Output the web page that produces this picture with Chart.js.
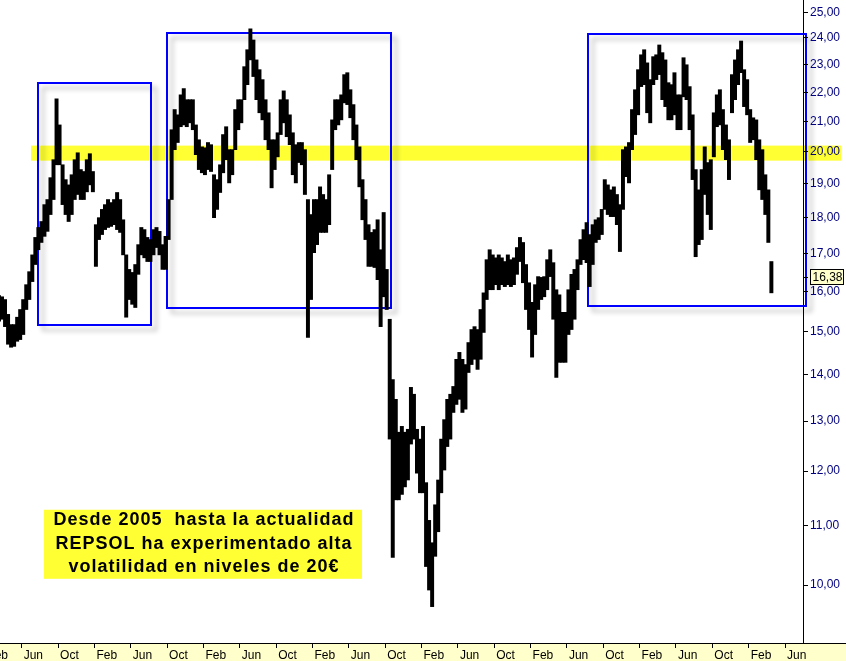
<!DOCTYPE html>
<html><head><meta charset="utf-8">
<script src="https://cdn.jsdelivr.net/npm/chart.js@4.4.1/dist/chart.umd.min.js"></script>
<style>html,body{margin:0;padding:0;background:#fff;overflow:hidden}canvas{display:block}</style>
</head><body>
<canvas id="c" width="846" height="661"></canvas>
<script>
// Price ranges [low, high], three periods per month (days 1-10, 11-20, 21-end)
const r2005 = [ // Mar..Dec 2005
[15.17,15.79],[15.25,15.89],[15.30,15.86],
[15.12,15.79],[14.70,15.42],[14.63,15.17],
[14.65,15.17],[14.77,15.35],[14.81,15.54],
[14.93,15.79],[15.54,16.17],[15.79,16.51],
[16.25,16.96],[16.70,17.44],[17.10,17.72],
[17.30,17.89],[17.47,18.38],[17.61,18.53],
[18.09,19.19],[18.53,19.75],[19.59,21.77],
[19.59,20.88],[18.38,19.59],[18.09,19.13],
[17.89,18.97],[18.09,19.28],[18.53,19.75],
[18.68,19.97],[18.53,19.44],[18.53,19.38]];
const r2006 = [
[18.76,19.75],[18.97,19.94],[18.76,19.38],
[16.65,17.80],[17.38,18.00],[17.52,18.24],
[17.66,18.38],[17.72,18.53],[17.75,18.44],
[17.80,18.53],[17.66,18.74],[17.58,18.53],
[16.96,17.94],[15.35,16.96],[15.79,16.57],
[15.67,16.49],[15.59,16.70],[16.44,17.24],
[16.96,17.72],[16.88,17.66],[16.78,17.44],
[16.78,17.38],[16.96,17.66],[17.16,17.72],
[16.96,17.61],[16.57,17.24],[16.57,17.47],
[17.38,18.53],[18.53,20.72],[20.07,21.40],
[20.30,21.22],[20.82,21.91],[20.88,22.13],
[20.82,21.74],[20.95,21.74],[20.72,21.74]];
const r2007 = [
[19.91,20.88],[19.44,20.39],[19.34,20.16],
[19.28,20.13],[19.44,20.30],[19.38,20.23],
[18.00,19.28],[18.24,19.13],[18.74,19.59],
[19.34,20.56],[19.75,20.82],[19.03,20.07],
[19.28,20.07],[20.07,21.40],[20.72,21.74],
[20.95,21.74],[21.74,22.92],[22.27,23.55],
[23.17,24.35],[22.56,23.92],[21.74,23.17],
[21.29,22.81],[21.05,22.45],[20.39,21.74],
[20.07,21.29],[18.88,20.39],[19.44,20.39],
[19.84,20.62],[20.56,21.74],[20.95,22.05],
[20.49,21.74],[20.23,21.22],[19.28,20.62],
[19.03,20.23],[19.66,20.30],[19.59,20.30]];
const r2008 = [
[18.68,20.07],[14.86,18.53],[15.79,18.09],
[17.02,18.53],[17.24,18.53],[17.58,18.91],
[17.58,18.68],[17.58,18.53],[17.80,19.28],
[19.44,21.05],[20.72,21.74],[20.88,21.74],
[21.05,21.91],[21.63,22.63],[21.57,22.70],
[21.12,22.09],[20.39,21.57],[19.75,20.88],
[18.91,20.16],[17.94,19.13],[17.38,18.53],
[16.65,17.80],[16.65,17.58],[16.62,17.66],
[16.30,17.94],[15.12,17.10],[15.86,18.15],
[15.54,16.57],[12.63,15.30],[10.45,13.89],
[11.46,13.46],[11.46,12.77],[11.56,12.89],
[11.70,12.77],[11.83,12.83],[12.53,13.72]];
const r2009 = [
[12.63,13.57],[11.96,12.83],[11.59,12.63],
[11.59,12.89],[10.30,11.78],[9.92,11.09],
[9.66,10.70],[10.47,11.37],[10.89,11.83],
[11.59,12.63],[12.02,13.03],[12.48,13.46],
[12.63,13.57],[13.18,13.74],[13.35,14.35],
[13.46,14.51],[13.18,14.35],[13.25,14.23],
[14.05,14.74],[14.23,15.05],[14.35,15.12],
[14.12,15.05],[14.35,15.54],[14.98,15.96],
[15.79,16.83],[16.04,17.10],[16.04,16.96],
[16.17,16.88],[16.04,16.96],[16.17,16.88],
[16.12,16.78],[16.17,16.96],[16.12,16.83],
[16.17,16.88],[16.44,17.16],[16.78,17.44]];
const r2010 = [
[16.22,17.30],[15.54,16.70],[15.05,16.22],
[14.40,15.72],[14.93,16.17],[15.54,16.38],
[15.79,16.36],[15.86,16.38],[16.04,16.83],
[16.38,17.10],[15.30,16.75],[13.94,16.04],
[14.28,15.91],[14.28,15.47],[14.28,15.47],
[14.93,16.04],[15.05,16.44],[15.30,16.57],
[16.04,16.83],[16.70,17.38],[16.83,17.66],
[16.75,17.86],[16.12,17.52],[16.70,17.80],
[17.30,17.94],[17.38,18.00],[17.52,18.24],
[18.24,19.13],[18.09,18.97],[18.03,18.82],
[18.03,18.91],[17.80,18.68],[17.05,18.38],
[18.24,20.07],[19.22,20.16],[19.03,20.30]];
const r2011 = [
[20.07,21.40],[20.56,22.09],[21.22,22.81],
[22.20,23.36],[22.27,23.55],[21.29,23.06],
[20.95,22.45],[22.27,23.29],[22.45,23.36],
[22.63,23.73],[21.74,23.44],[21.50,23.17],
[21.05,22.34],[21.05,22.27],[21.22,22.70],
[20.72,21.91],[20.72,21.91],[21.84,23.25],
[21.74,22.99],[20.72,22.20],[19.13,21.22],
[16.91,19.44],[17.24,18.82],[17.38,19.44],
[18.68,20.16],[18.09,19.66],[17.66,19.75],
[19.84,21.29],[20.82,21.91],[20.88,22.09],
[20.07,21.40],[19.75,20.88],[19.13,20.39],
[21.29,22.63],[21.74,23.17],[22.27,23.55]];
const r2012 = [ // Jan..Apr 2012
[22.70,23.88],[21.50,22.81],[21.22,22.45],
[20.30,21.40],[20.39,21.12],[19.75,21.05],
[18.82,20.39],[18.53,20.07],[18.09,19.28],
[17.30,18.82],[15.96,16.78]];
const lastClose = 16.38;

const tickLabels = ['Feb','Jun','Oct','Feb','Jun','Oct','Feb','Jun','Oct','Feb','Jun','Oct',
                    'Feb','Jun','Oct','Feb','Jun','Oct','Feb','Jun','Oct','Feb','Jun'];
const yTicks = [10,11,12,13,14,15,16,17,18,19,20,21,22,23,24,25];

// annotations in data units (x = months since Jan 2005)
const boxes = [
  {x0: 6.79, x1: 19.23, hi: 22.34, lo: 15.17},
  {x0: 20.99, x1: 45.64, hi: 24.19, lo: 15.57},
  {x0: 67.32, x1: 91.31, hi: 24.15, lo: 15.64}
];
const band = {x0: 6.02, x1: 95.16, hi: 20.20, lo: 19.72};
const note = {x0: 7.45, x1: 42.45, hi: 11.28, lo: 10.10,
  lines: ['Desde 2005  hasta la actualidad', 'REPSOL ha experimentado alta', 'volatilidad en niveles de 20€']};

const series = [[2005,2,r2005],[2006,0,r2006],[2007,0,r2007],[2008,0,r2008],
                [2009,0,r2009],[2010,0,r2010],[2011,0,r2011],[2012,0,r2012]];
const points = [];
series.forEach(([yr, m0, arr]) => arr.forEach((v, i) => {
  const month = (yr - 2005) * 12 + m0 + Math.floor(i / 3);
  points.push({x: month + ((i % 3) + 0.5) / 3, y: v});
}));
const tickPos = tickLabels.map((l, i) => 1 + 4 * i);

const FONT = '"Liberation Sans", Arial, sans-serif';
const fmt = v => v.toFixed(2).replace('.', ',');

const annot = {
  id: 'annot',
  beforeDraw(chart) {
    const {ctx, width, height, chartArea} = chart;
    const x = chart.scales.x, y = chart.scales.y;
    ctx.save();
    ctx.fillStyle = '#fff'; ctx.fillRect(0, 0, width, height);
    ctx.fillStyle = '#ffffcc'; ctx.fillRect(0, chartArea.bottom, width, height - chartArea.bottom);
    const bx0 = x.getPixelForValue(band.x0), bx1 = x.getPixelForValue(band.x1);
    const by0 = y.getPixelForValue(band.hi), by1 = y.getPixelForValue(band.lo);
    ctx.fillStyle = '#ffff33'; ctx.fillRect(bx0, by0, bx1 - bx0, by1 - by0);
    boxes.forEach(b => {
      const px0 = Math.round(x.getPixelForValue(b.x0)), px1 = Math.round(x.getPixelForValue(b.x1));
      const py0 = Math.round(y.getPixelForValue(b.hi)), py1 = Math.round(y.getPixelForValue(b.lo));
      ctx.save();
      ctx.shadowColor = 'rgba(0,0,0,0.28)';
      ctx.shadowBlur = 5; ctx.shadowOffsetX = 5; ctx.shadowOffsetY = 5;
      ctx.strokeStyle = '#0000ff'; ctx.lineWidth = 2;
      ctx.strokeRect(px0, py0, px1 - px0, py1 - py0);
      ctx.restore();
    });
    ctx.restore();
  },
  afterDraw(chart) {
    const {ctx, width, chartArea} = chart;
    const x = chart.scales.x, y = chart.scales.y;
    ctx.save();
    ctx.strokeStyle = '#000'; ctx.lineWidth = 1;
    ctx.beginPath(); ctx.moveTo(chartArea.right, chartArea.bottom + 0.5); ctx.lineTo(width, chartArea.bottom + 0.5); ctx.stroke();
    const py = Math.round(y.getPixelForValue(lastClose));
    ctx.beginPath(); ctx.moveTo(chartArea.right, py + 0.5); ctx.lineTo(chartArea.right + 5, py + 0.5); ctx.stroke();
    ctx.fillStyle = '#ffffcc';
    ctx.fillRect(chartArea.right + 7.5, py - 7.5, 33, 15);
    ctx.strokeRect(chartArea.right + 7.5, py - 7.5, 33, 15);
    ctx.fillStyle = '#000'; ctx.font = '12px ' + FONT; ctx.textBaseline = 'middle'; ctx.textAlign = 'left';
    ctx.fillText(fmt(lastClose), chartArea.right + 9.5, py + 0.5);
    const nx0 = x.getPixelForValue(note.x0), nx1 = x.getPixelForValue(note.x1);
    const ny0 = y.getPixelForValue(note.hi), ny1 = y.getPixelForValue(note.lo);
    ctx.fillStyle = '#ffff33'; ctx.fillRect(nx0, ny0, nx1 - nx0, ny1 - ny0);
    ctx.fillStyle = '#000'; ctx.font = 'bold 18px ' + FONT; ctx.textAlign = 'center'; ctx.textBaseline = 'middle';
    if ('letterSpacing' in ctx) ctx.letterSpacing = '1px';
    const cx = (nx0 + nx1) / 2 + 1, cy = (ny0 + ny1) / 2;
    note.lines.forEach((t, i) => ctx.fillText(t, cx, cy + (i - 1) * 23.4 - 0.5));
    ctx.restore();
  }
};

new Chart(document.getElementById('c'), {
  type: 'bar',
  data: { datasets: [{ data: points, backgroundColor: '#000', borderWidth: 0, barThickness: 3.3 }] },
  options: {
    responsive: false, animation: false, events: [],
    layout: { padding: 0 },
    plugins: { legend: { display: false }, tooltip: { enabled: false } },
    scales: {
      x: {
        type: 'linear', min: 2.612, max: 90.98, offset: false,
        afterBuildTicks: s => { s.ticks = tickPos.map(v => ({value: v})); },
        afterFit: s => { s.height = 18; s.paddingLeft = 0; s.paddingRight = 0; },
        grid: { drawOnChartArea: false, drawTicks: true, tickLength: 5, color: '#000', offset: false },
        border: { display: true, color: '#000', width: 1 },
        ticks: { autoSkip: false, maxRotation: 0, minRotation: 0, align: 'start', labelOffset: 2, padding: 0,
          color: '#000', font: { family: FONT, size: 12 }, callback: (v, i) => tickLabels[i] }
      },
      y: {
        type: 'logarithmic', position: 'right', min: 9.114, max: 25.5,
        afterBuildTicks: s => { s.ticks = yTicks.map(v => ({value: v})); },
        afterFit: s => { s.width = 43; s.paddingTop = 0; s.paddingBottom = 0; },
        grid: { drawOnChartArea: false, drawTicks: true, tickLength: 5, color: '#000' },
        border: { display: true, color: '#000', width: 1 },
        ticks: { autoSkip: false, padding: 2, color: '#000080', font: { family: FONT, size: 12 },
          callback: v => fmt(v) }
      }
    }
  },
  plugins: [annot]
});
</script>
</body></html>
